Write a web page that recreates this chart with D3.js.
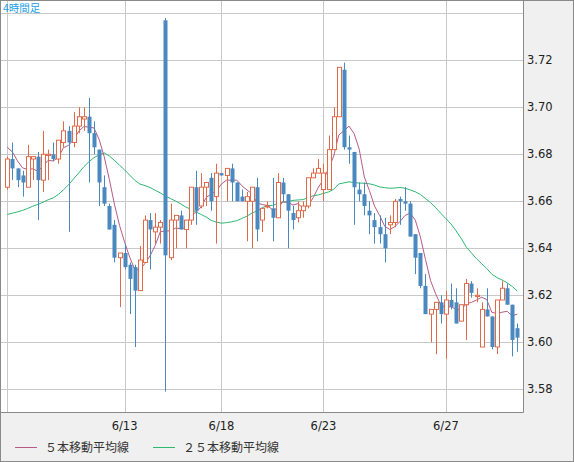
<!DOCTYPE html>
<html><head><meta charset="utf-8">
<script src="https://cdn.jsdelivr.net/npm/d3@7"></script>
<style>body{margin:0;background:#fff}text{font-family:"DejaVu Sans",sans-serif}</style>
</head><body>
<svg width="574" height="462"></svg>
<script>
// 4h candles: open, high, low, close
const opens  = [3.666,3.678,3.674,3.671,3.666,3.678,3.679,3.669,3.6795,3.680,3.678,3.685,3.690,3.685,3.692,3.695,3.696,3.689,3.682,3.666,
3.658,3.650,3.636,3.638,3.633,3.632,3.622,3.634,3.652,3.647,3.649,3.737,3.636,3.652,3.654,3.648,3.652,3.666,3.658,3.666,
3.670,3.662,3.672,3.671,3.674,3.668,3.662,3.660,3.660,3.666,3.652,3.658,3.657,3.653,3.668,3.663,3.655,3.653,3.656,3.658,
3.670,3.672,3.665,3.665,3.682,3.696,3.716,3.683,3.681,3.665,3.663,3.656,3.652,3.649,3.646,3.650,3.651,3.661,3.660,3.659,
3.646,3.638,3.624,3.612,3.614,3.617,3.612,3.618,3.617,3.609,3.616,3.625,3.6195,3.598,3.614,3.611,3.598,3.618,3.623,3.616,3.606];
const highs  = [3.679,3.685,3.674,3.673,3.684,3.679,3.681,3.690,3.682,3.685,3.686,3.694,3.692,3.698,3.700,3.700,3.704,3.694,3.682,3.671,
3.659,3.652,3.638,3.642,3.634,3.633,3.641,3.654,3.655,3.655,3.652,3.738,3.659,3.654,3.656,3.652,3.666,3.673,3.672,3.668,
3.672,3.676,3.672,3.674,3.676,3.668,3.665,3.664,3.666,3.670,3.657,3.660,3.670,3.672,3.670,3.663,3.658,3.660,3.660,3.670,
3.674,3.678,3.676,3.688,3.700,3.717,3.719,3.688,3.681,3.668,3.668,3.660,3.655,3.654,3.653,3.654,3.661,3.662,3.666,3.660,
3.646,3.638,3.629,3.614,3.617,3.620,3.622,3.625,3.623,3.616,3.627,3.626,3.623,3.617,3.623,3.611,3.618,3.626,3.625,3.616,3.608];
const lows   = [3.665,3.669,3.666,3.662,3.666,3.669,3.652,3.664,3.669,3.677,3.676,3.683,3.647,3.683,3.689,3.690,3.668,3.680,3.658,3.658,
3.648,3.634,3.615,3.631,3.612,3.598,3.622,3.634,3.631,3.642,3.642,3.579,3.635,3.640,3.648,3.640,3.650,3.650,3.657,3.658,
3.656,3.642,3.671,3.660,3.660,3.660,3.660,3.643,3.640,3.643,3.647,3.657,3.643,3.653,3.660,3.640,3.648,3.651,3.653,3.657,
3.670,3.672,3.660,3.665,3.682,3.696,3.682,3.676,3.650,3.660,3.654,3.646,3.642,3.642,3.634,3.646,3.649,3.650,3.656,3.645,
3.629,3.623,3.612,3.600,3.595,3.608,3.593,3.614,3.608,3.609,3.601,3.619,3.617,3.598,3.611,3.597,3.595,3.618,3.616,3.594,3.596];
const closes = [3.678,3.674,3.669,3.668,3.679,3.679,3.669,3.680,3.680,3.678,3.686,3.690,3.685,3.692,3.696,3.696,3.689,3.683,3.668,3.659,
3.648,3.636,3.638,3.632,3.627,3.622,3.635,3.652,3.648,3.649,3.651,3.637,3.652,3.654,3.648,3.652,3.666,3.656,3.666,3.668,
3.660,3.672,3.671,3.674,3.668,3.660,3.660,3.662,3.666,3.648,3.657,3.658,3.653,3.668,3.663,3.656,3.652,3.656,3.658,3.670,
3.672,3.674,3.672,3.682,3.696,3.717,3.683,3.682,3.666,3.663,3.658,3.654,3.649,3.646,3.640,3.651,3.660,3.660,3.659,3.645,
3.636,3.624,3.612,3.614,3.617,3.612,3.618,3.615,3.608,3.616,3.625,3.621,3.620,3.614,3.611,3.598,3.618,3.623,3.616,3.601,3.602];
// closes before the visible window (needed for the moving averages)
const priorCloses = [3.660,3.656,3.652,3.658,3.655,3.650,3.657,3.654,3.658,3.650,
3.640,3.632,3.628,3.634,3.630,3.636,3.638,3.640,3.637,3.680,3.684,3.688,3.683,3.682];
const dayLabels = [{i:23,t:"6/13"},{i:42,t:"6/18"},{i:62,t:"6/23"},{i:86,t:"6/27"}];
const gridDays = [0,23,42,62,86];
const yTicks = [3.58,3.60,3.62,3.64,3.66,3.68,3.70,3.72];
const yGrid = [3.58,3.60,3.62,3.64,3.66,3.68,3.70,3.72,3.74];

const svg = d3.select('svg');
const n = closes.length;
const x = d3.scaleLinear().domain([0, n-1]).range([7.3, 517.3]);
const y = d3.scaleLinear().domain([3.60, 3.72]).range([342.3, 60.3]);

svg.append('rect').attr('x',0.5).attr('y',0.5).attr('width',573).attr('height',461)
  .attr('fill','#f0f0f0').attr('stroke','#8a8a8a');
svg.append('rect').attr('x',1).attr('y',1).attr('width',522).attr('height',411).attr('fill','#fff');

const g = svg.append('g');
g.selectAll('.hg').data(yGrid).enter().append('line')
  .attr('x1',1).attr('x2',523).attr('y1',d=>Math.round(y(d))+0.5).attr('y2',d=>Math.round(y(d))+0.5)
  .attr('stroke','#c8c8c8');
g.selectAll('.vg').data(gridDays).enter().append('line')
  .attr('y1',1).attr('y2',412).attr('x1',d=>Math.round(x(d))+0.5).attr('x2',d=>Math.round(x(d))+0.5)
  .attr('stroke','#c8c8c8');

// moving averages
const all = priorCloses.concat(closes);
function sma(p){ return closes.map((c,i)=>{ const k=i+priorCloses.length; return d3.mean(all.slice(k-p+1,k+1)); }); }
const line = d3.line().x((d,i)=>x(i)).y(d=>y(d));
g.append('path').attr('d',line(sma(25))).attr('fill','none').attr('stroke','#2eb872').attr('stroke-width',1);
g.append('path').attr('d',line(sma(5))).attr('fill','none').attr('stroke','#b85a86').attr('stroke-width',1);

// candles
const idx = d3.range(n);
const blue = '#4a88c0', red = '#e06a48';
const c = g.selectAll('.c').data(idx).enter().append('g');
c.append('line').attr('x1',i=>Math.round(x(i))+0.5).attr('x2',i=>Math.round(x(i))+0.5)
  .attr('y1',i=>y(highs[i])).attr('y2',i=>y(lows[i]))
  .attr('stroke',i=>closes[i]>=opens[i]?red:blue).attr('stroke-width',1);
c.append('rect')
  .attr('x',i=>Math.round(x(i))-1.5)
  .attr('width',4)
  .attr('y',i=>y(Math.max(opens[i],closes[i])))
  .attr('height',i=>Math.max(1,y(Math.min(opens[i],closes[i]))-y(Math.max(opens[i],closes[i]))))
  .attr('fill',i=>closes[i]>=opens[i]?'#fff':blue)
  .attr('stroke',i=>closes[i]>=opens[i]?red:'none')
  .attr('stroke-width',1);

// frame of plot
svg.append('line').attr('x1',523.5).attr('x2',523.5).attr('y1',0).attr('y2',412.5).attr('stroke','#8a8a8a');
svg.append('line').attr('x1',1).attr('x2',523.5).attr('y1',412.5).attr('y2',412.5).attr('stroke','#8a8a8a');

// axes labels
svg.selectAll('.yt').data(yTicks).enter().append('text')
  .attr('x',527).attr('y',d=>y(d)+4).attr('font-size',11.5).attr('fill','#222').text(d=>d.toFixed(2));
svg.selectAll('.xt').data(dayLabels).enter().append('text')
  .attr('x',d=>x(d.i)).attr('y',430).attr('text-anchor','middle').attr('font-size',11.5).attr('fill','#222').text(d=>d.t);

svg.append('text').attr('x',3).attr('y',12).attr('font-size',10.5).attr('fill','#22a0e8')
  .style('font-family','"Noto Sans CJK JP"').text('4時間足');

// legend
const leg = [{t:'５本移動平均線',c:'#b85a86',x:15},{t:'２５本移動平均線',c:'#2eb872',x:153}];
const lg = svg.selectAll('.lg').data(leg).enter().append('g');
lg.append('line').attr('x1',d=>d.x).attr('x2',d=>d.x+22).attr('y1',447.5).attr('y2',447.5).attr('stroke',d=>d.c);
lg.append('text').attr('x',d=>d.x+30).attr('y',452).attr('font-size',12).attr('fill','#333')
  .style('font-family','"Noto Sans CJK JP"').text(d=>d.t);
</script>
</body></html>
